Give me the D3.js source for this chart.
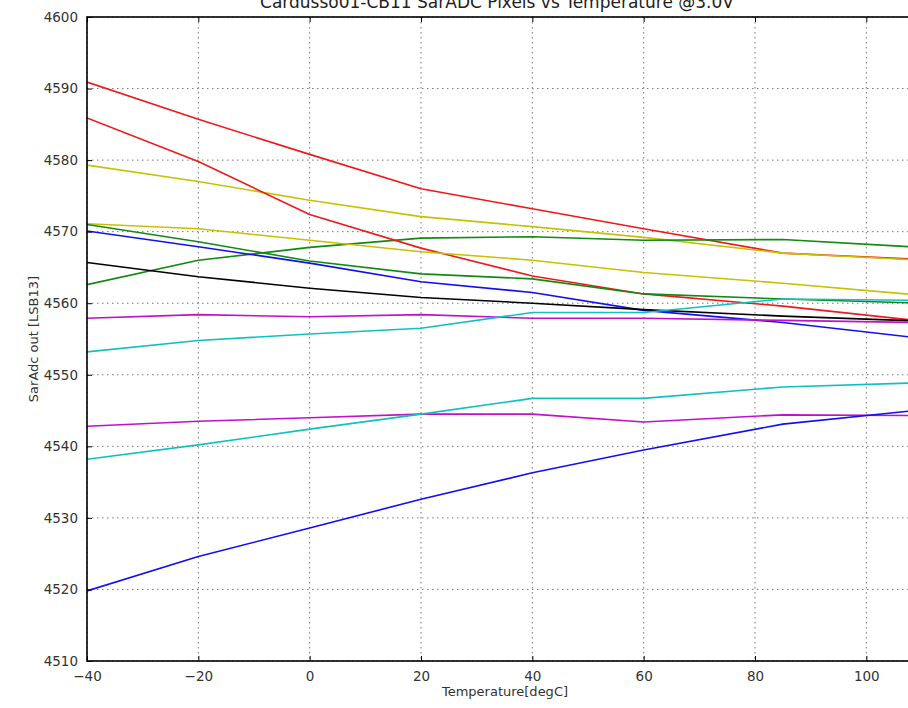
<!DOCTYPE html>
<html>
<head>
<meta charset="utf-8">
<script src="https://cdn.jsdelivr.net/npm/d3@7"></script>
<style>
  body { margin: 0; background: #fff; }
  svg { font-family: "DejaVu Sans", sans-serif; }
</style>
</head>
<body>
<script>
// temperatures where each channel was sampled
const temps = [-40, -20, 0, 20, 40, 60, 85, 110];

// SarAdc output per pixel channel (LSB13)
const redTop     = [4590.9, 4585.7, 4580.8, 4576.0, 4573.2, 4570.4, 4567.0, 4566.1];
const redLow     = [4585.9, 4579.8, 4572.4, 4567.7, 4563.8, 4561.3, 4559.6, 4557.5];
const yellowTop  = [4579.3, 4577.0, 4574.4, 4572.1, 4570.7, 4569.2, 4567.0, 4566.0];
const yellowLow  = [4571.1, 4570.4, 4568.8, 4567.2, 4566.0, 4564.3, 4562.8, 4561.1];
const greenRise  = [4562.6, 4566.0, 4567.8, 4569.1, 4569.3, 4568.8, 4568.9, 4567.8];
const greenFall  = [4571.0, 4568.6, 4565.9, 4564.1, 4563.4, 4561.3, 4560.6, 4560.0];
const blueTop    = [4570.1, 4567.9, 4565.6, 4563.0, 4561.5, 4559.0, 4557.3, 4555.1];
const blackLine  = [4565.7, 4563.7, 4562.1, 4560.8, 4560.0, 4559.1, 4558.2, 4557.5];
const magentaTop = [4557.9, 4558.4, 4558.1, 4558.4, 4557.9, 4557.9, 4557.6, 4557.3];
const cyanTop    = [4553.2, 4554.8, 4555.7, 4556.5, 4558.7, 4558.7, 4560.6, 4560.4];
const magentaLow = [4542.8, 4543.5, 4544.0, 4544.5, 4544.5, 4543.4, 4544.4, 4544.3];
const cyanLow    = [4538.2, 4540.2, 4542.4, 4544.5, 4546.7, 4546.7, 4548.3, 4548.9];
const blueLow    = [4519.8, 4524.6, 4528.6, 4532.6, 4536.3, 4539.5, 4543.1, 4545.1];

const xTicks = [-40, -20, 0, 20, 40, 60, 80, 100];
const yTicks = [4510, 4520, 4530, 4540, 4550, 4560, 4570, 4580, 4590, 4600];

const series = [
  { values: redTop, color: "#f01818" },
  { values: yellowTop, color: "#c8c000" },
  { values: greenRise, color: "#108a10" },
  { values: redLow, color: "#f01818" },
  { values: yellowLow, color: "#c8c000" },
  { values: greenFall, color: "#108a10" },
  { values: blueTop, color: "#1010f0" },
  { values: blackLine, color: "#000000" },
  { values: magentaTop, color: "#c010c8" },
  { values: cyanTop, color: "#10c0c0" },
  { values: magentaLow, color: "#c010c8" },
  { values: cyanLow, color: "#10c0c0" },
  { values: blueLow, color: "#1010f0" }
];

const width = 908, height = 708;
const plot = { left: 87, top: 17, right: 922, bottom: 661 };

const svg = d3.select("body").append("svg")
  .attr("width", width)
  .attr("height", height);

const x = d3.scaleLinear().domain([-40, 110]).range([plot.left, plot.right]);
const y = d3.scaleLinear().domain([4510, 4600]).range([plot.bottom, plot.top]);

svg.append("clipPath").attr("id", "plotclip")
  .append("rect")
  .attr("x", plot.left).attr("y", plot.top)
  .attr("width", plot.right - plot.left).attr("height", plot.bottom - plot.top);

// dotted grid
const grid = svg.append("g")
  .attr("stroke", "#777")
  .attr("stroke-width", 1)
  .attr("stroke-dasharray", "1.5,3.5");

grid.selectAll("line.gx").data(xTicks).join("line")
  .attr("x1", d => x(d)).attr("x2", d => x(d))
  .attr("y1", plot.top).attr("y2", plot.bottom);

grid.selectAll("line.gy").data(yTicks).join("line")
  .attr("x1", plot.left).attr("x2", plot.right)
  .attr("y1", d => y(d)).attr("y2", d => y(d));

// data lines
const line = d3.line()
  .x((d, i) => x(temps[i]))
  .y(d => y(d));

svg.append("g")
  .attr("clip-path", "url(#plotclip)")
  .selectAll("path")
  .data(series)
  .join("path")
  .attr("fill", "none")
  .attr("stroke", d => d.color)
  .attr("stroke-width", 1.6)
  .attr("stroke-linejoin", "round")
  .attr("d", d => line(d.values));

// axes with inward ticks
const tickLen = 5;
const xAxis = svg.append("g")
  .attr("transform", `translate(0,${plot.bottom})`)
  .call(d3.axisBottom(x).tickValues(xTicks).tickSize(-tickLen).tickPadding(tickLen + 5)
    .tickFormat(d => d < 0 ? "\u2212" + Math.abs(d) : d));

const yAxis = svg.append("g")
  .attr("transform", `translate(${plot.left},0)`)
  .call(d3.axisLeft(y).tickValues(yTicks).tickSize(-tickLen).tickPadding(tickLen + 4)
    .tickFormat(d3.format("d")));

svg.append("g")
  .attr("transform", `translate(0,${plot.top})`)
  .call(d3.axisTop(x).tickValues(xTicks).tickSize(-tickLen).tickFormat(""));

[xAxis, yAxis].forEach(a => {
  a.selectAll("text")
    .attr("font-family", "DejaVu Sans, sans-serif")
    .attr("font-size", 13.5)
    .attr("fill", "#333");
  a.selectAll(".tick line").attr("stroke", "#000");
});
svg.selectAll(".domain").remove();

// frame
svg.append("rect")
  .attr("x", plot.left).attr("y", plot.top)
  .attr("width", plot.right - plot.left).attr("height", plot.bottom - plot.top)
  .attr("fill", "none")
  .attr("stroke", "#000")
  .attr("stroke-width", 1.6);

// labels (title is cut by the top edge, as in the reference)
svg.append("text")
  .attr("x", 497)
  .attr("y", 8)
  .attr("text-anchor", "middle")
  .attr("font-size", 17)
  .attr("fill", "#222")
  .text("Cardusso01-CB11 SarADC Pixels vs Temperature @3.0V");

svg.append("text")
  .attr("x", 505)
  .attr("y", 696)
  .attr("text-anchor", "middle")
  .attr("font-size", 13)
  .attr("fill", "#333")
  .text("Temperature[degC]");

svg.append("text")
  .attr("transform", `translate(38,${(plot.top + plot.bottom) / 2}) rotate(-90)`)
  .attr("text-anchor", "middle")
  .attr("font-size", 13)
  .attr("fill", "#333")
  .text("SarAdc out [LSB13]");
</script>
</body>
</html>
